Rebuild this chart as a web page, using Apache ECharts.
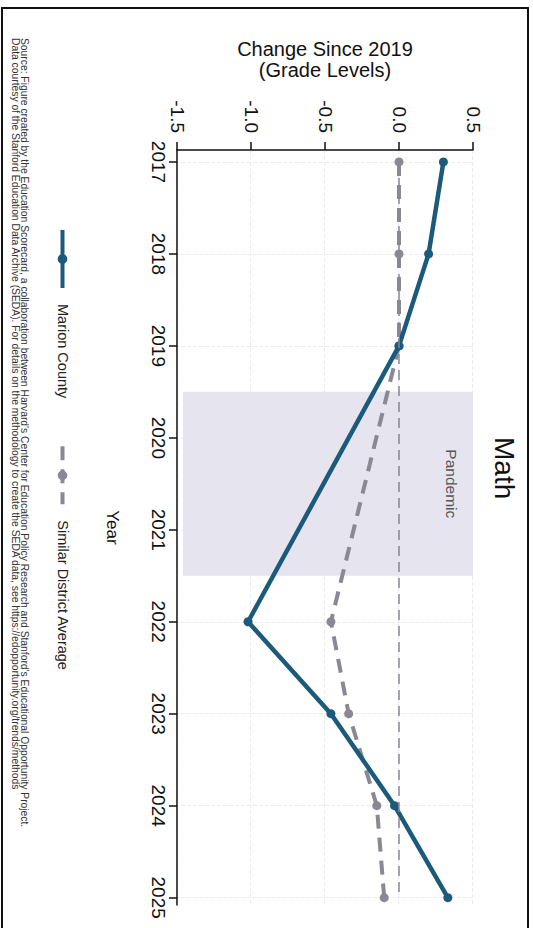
<!DOCTYPE html>
<html><head><meta charset="utf-8">
<script src="https://cdn.jsdelivr.net/npm/echarts@6/dist/echarts.min.js"></script>
<style>
html,body{margin:0;padding:0;width:533px;height:928px;overflow:hidden;background:#fff;}
#chart{position:absolute;left:0;top:0;width:928px;height:533px;transform-origin:0 0;transform:translateX(533px) rotate(90deg);}
</style></head><body><div id="chart"></div>
<script>
const years = [2017, 2018, 2019, 2022, 2023, 2024, 2025];
const marionCounty = [0.30, 0.20, 0.00, -1.02, -0.46, -0.03, 0.33];
const similarDistrictAverage = [0.00, 0.00, 0.00, -0.46, -0.34, -0.15, -0.10];
const yearTicks = [2017, 2018, 2019, 2020, 2021, 2022, 2023, 2024, 2025];
const pandemicYears = [2019.5, 2021.5];
const sourceLines = [
  "Source: Figure created by the Education Scorecard, a collaboration between Harvard's Center for Education Policy Research and Stanford's Educational Opportunity Project.",
  "Data courtesy of the Stanford Education Data Archive (SEDA). For details on the methodology to create the SEDA data, see https://edopportunity.org/trends/methods"
];

const FONT = "'Liberation Sans', Arial, sans-serif";
const MARION = '#1b5a7a';
const SIMILAR = '#8b8893';
const chart = echarts.init(document.getElementById('chart'), null, {renderer: 'svg', width: 928, height: 533});
const pair = (arr) => years.map((y, i) => [y, arr[i]]);

chart.setOption({
  backgroundColor: '#fff',
  animation: false,
  textStyle: {fontFamily: FONT},
  title: {text: 'Math', left: 432, top: 10, textStyle: {fontSize: 28, fontWeight: 'normal', color: '#111', fontFamily: FONT}},
  legend: {
    data: [
      {name: 'Marion County', lineStyle: {width: 4, color: MARION, type: 'solid'}},
      {name: 'Similar District Average', lineStyle: {width: 4, color: SIMILAR, type: [14, 9]}}
    ],
    left: 228, top: 463, padding: 0, itemWidth: 58, itemHeight: 12, itemGap: 46,
    textStyle: {fontSize: 14.5, color: '#222', padding: [0, 0, 0, 11], fontFamily: FONT}
  },
  grid: {left: 150, right: 23, top: 60, bottom: 177, containLabel: false, outerBoundsMode: 'none'},
  xAxis: {
    type: 'value', min: 2016.87, max: 2025.08, position: 'bottom',
    name: 'Year', nameLocation: 'middle', nameGap: 56,
    nameTextStyle: {fontSize: 17, color: '#111', fontFamily: FONT},
    axisLine: {show: true, onZero: false, lineStyle: {color: '#111', width: 1.5}},
    axisTick: {show: true, customValues: yearTicks, length: 8, lineStyle: {color: '#111', width: 1.5}},
    axisLabel: {customValues: yearTicks, formatter: v => String(v), fontSize: 19, color: '#111', margin: 9, fontFamily: FONT},
    splitLine: {show: true, lineStyle: {color: '#ececec', type: 'dashed'}}
  },
  yAxis: {
    type: 'value', min: -1.5, max: 0.5, interval: 0.5, position: 'left',
    name: 'Change Since 2019\n(Grade Levels)', nameLocation: 'middle', nameRotate: 90, nameGap: 70,
    nameTextStyle: {fontSize: 20, lineHeight: 21, color: '#111', fontFamily: FONT},
    axisLine: {show: true, onZero: false, lineStyle: {color: '#111', width: 1.5}},
    axisTick: {show: true, length: 8, lineStyle: {color: '#111', width: 1.5}},
    axisLabel: {formatter: v => v.toFixed(1), fontSize: 19, color: '#111', margin: 17, fontFamily: FONT},
    splitLine: {show: true, lineStyle: {color: '#ececec', type: 'dashed'}}
  },
  series: [
    {
      name: 'Similar District Average', type: 'line', data: pair(similarDistrictAverage), z: 3,
      symbol: 'circle', symbolSize: 9,
      itemStyle: {color: SIMILAR},
      lineStyle: {color: SIMILAR, width: 4, type: [14, 9]},
      markArea: {
        silent: true,
        itemStyle: {color: '#e6e5ef'},
        label: {show: true, position: 'insideTop', distance: 14, fontSize: 15.5, color: '#555', fontFamily: FONT},
        data: [[{name: 'Pandemic', xAxis: pandemicYears[0], yAxis: -1.46}, {xAxis: pandemicYears[1], yAxis: 0.5}]]
      },
      markLine: {
        silent: true, symbol: 'none', label: {show: false},
        lineStyle: {color: '#8a8299', width: 1.5, type: [10, 6]},
        data: [[{coord: [yearTicks[0], 0]}, {coord: [yearTicks[yearTicks.length - 1], 0]}]]
      }
    },
    {
      name: 'Marion County', type: 'line', data: pair(marionCounty), z: 4,
      symbol: 'circle', symbolSize: 9,
      itemStyle: {color: MARION},
      lineStyle: {color: MARION, width: 4.5}
    }
  ],
  graphic: [
    {type: 'rect', shape: {x: 8, y: 5, width: 940, height: 526}, style: {fill: 'none', stroke: '#111', lineWidth: 2}, silent: true},
    {type: 'text', x: 38, y: 509, style: {text: sourceLines[0], fontSize: 10.3, fill: '#333', verticalAlign: 'middle', fontFamily: FONT}},
    {type: 'text', x: 38, y: 518, style: {text: sourceLines[1], fontSize: 10.3, fill: '#333', verticalAlign: 'middle', fontFamily: FONT}}
  ]
});
</script></body></html>
